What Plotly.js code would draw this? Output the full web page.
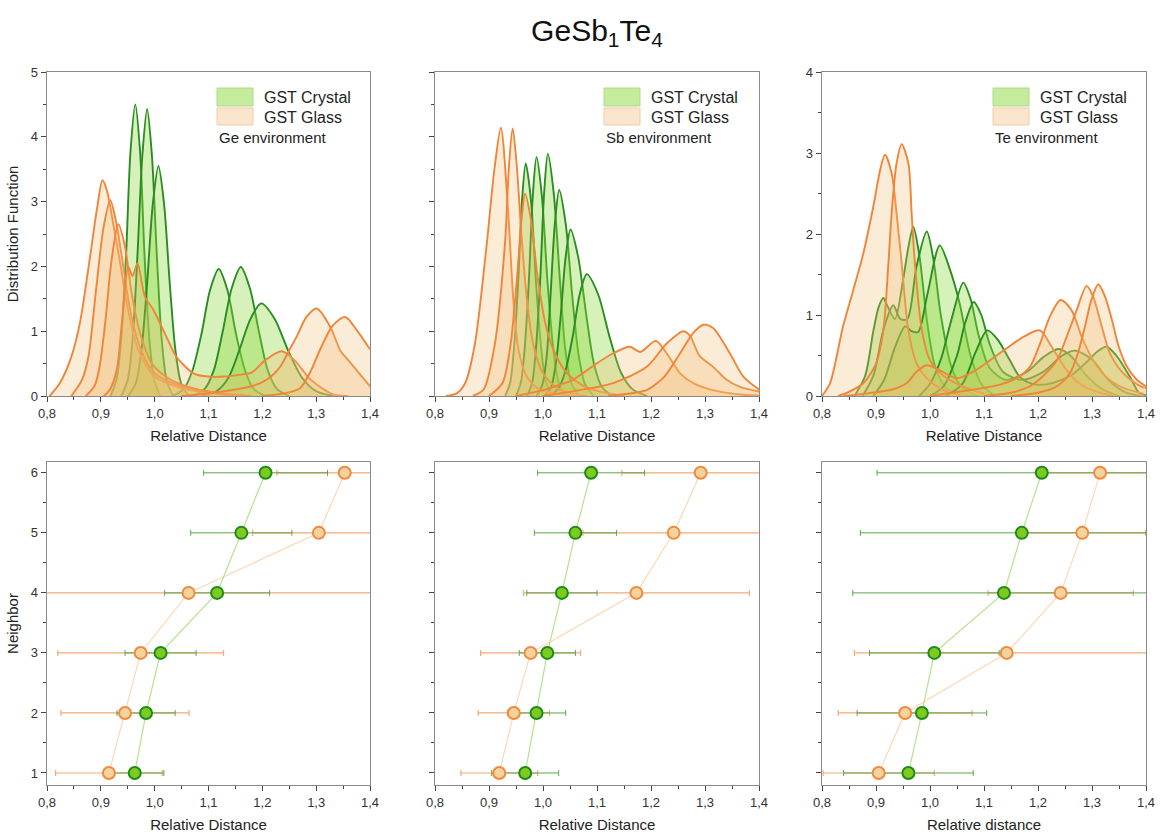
<!DOCTYPE html>
<html>
<head>
<meta charset="utf-8">
<script src="https://cdn.plot.ly/plotly-3.0.1.min.js"></script>
<style>
  html, body { margin: 0; padding: 0; background: #fff; }
  #chart { width: 1160px; height: 839px; }
</style>
</head>
<body>
<div id="chart"></div>
<script>
// ---------- Distribution functions (one curve per neighbour rank 1..6) ----------
// Ge environment
const geCrystalX = [
  [0.918,0.929,0.938,0.947,0.955,0.964,0.973,0.981,0.990,0.999,1.010],
  [0.938,0.950,0.959,0.968,0.977,0.986,0.995,1.004,1.013,1.022,1.034],
  [0.951,0.965,0.9755,0.986,0.9965,1.007,1.0175,1.028,1.0385,1.049,1.063],
  [1.033,1.054,1.070,1.087,1.103,1.119,1.135,1.151,1.168,1.184,1.205],
  [1.070,1.093,1.110,1.126,1.143,1.160,1.177,1.194,1.210,1.227,1.250],
  [1.089,1.116,1.137,1.157,1.178,1.198,1.223,1.248,1.274,1.299,1.332]
];
const geCrystalY = [
  [0,0.25,0.89,2.2,3.76,4.50,3.76,2.2,0.89,0.25,0],
  [0,0.25,0.88,2.17,3.70,4.43,3.70,2.17,0.88,0.25,0],
  [0,0.2,0.71,1.74,2.96,3.55,2.96,1.74,0.71,0.2,0],
  [0,0.11,0.39,0.96,1.64,1.96,1.64,0.96,0.39,0.11,0],
  [0,0.11,0.40,0.98,1.66,1.99,1.66,0.98,0.40,0.11,0],
  [0,0.08,0.28,0.70,1.19,1.43,1.19,0.70,0.28,0.08,0]
];
const geGlassX = [
  [0.805,0.824,0.845,0.861,0.88,0.893,0.903,0.911,0.923,0.935,0.95,0.97,1.0,1.05,1.1,1.15],
  [0.845,0.865,0.877,0.891,0.905,0.9175,0.928,0.939,0.955,0.975,1.0,1.05,1.12,1.18],
  [0.872,0.888,0.897,0.908,0.92,0.9325,0.945,0.957,0.972,0.995,1.03,1.08,1.15],
  [0.905,0.917,0.93,0.939,0.951,0.959,0.968,0.982,0.9975,1.022,1.04,1.072,1.10,1.13,1.16,1.18,1.205,1.236,1.26,1.29,1.33,1.36],
  [1.05,1.1,1.15,1.18,1.208,1.233,1.25,1.264,1.282,1.301,1.326,1.345,1.36,1.38,1.4],
  [1.2,1.24,1.27,1.289,1.307,1.33,1.354,1.375,1.4]
];
const geGlassY = [
  [0,0.2,0.6,1.12,2.15,2.9,3.33,3.18,2.66,2.1,1.35,0.7,0.3,0.12,0.05,0],
  [0,0.25,0.61,1.63,2.6,3.02,2.7,2.15,1.3,0.7,0.35,0.15,0.05,0],
  [0,0.15,0.42,1.12,2.1,2.65,2.3,1.6,1.0,0.5,0.25,0.1,0],
  [0,0.1,0.42,1.12,1.99,1.85,2.05,1.53,1.33,0.91,0.61,0.35,0.3,0.3,0.33,0.36,0.55,0.69,0.55,0.25,0.03,0],
  [0,0.04,0.1,0.15,0.25,0.45,0.71,0.92,1.22,1.35,1.07,0.7,0.55,0.35,0.15],
  [0,0.04,0.12,0.37,0.71,1.08,1.22,1.02,0.72]
];

// Sb environment
const sbCrystalX = [
  [0.930,0.939,0.946,0.954,0.961,0.968,0.978,0.987,0.997,1.006,1.019],
  [0.950,0.959,0.966,0.974,0.981,0.988,0.998,1.008,1.019,1.029,1.042],
  [0.971,0.980,0.987,0.995,1.002,1.009,1.020,1.031,1.041,1.052,1.067],
  [0.988,0.999,1.007,1.014,1.022,1.030,1.042,1.054,1.066,1.078,1.094],
  [1.003,1.015,1.024,1.033,1.042,1.051,1.065,1.080,1.094,1.109,1.128],
  [1.011,1.028,1.041,1.055,1.068,1.081,1.102,1.123,1.144,1.165,1.193]
];
const sbCrystalY = [
  [0,0.20,0.71,1.76,3.00,3.59,3.00,1.76,0.71,0.20,0],
  [0,0.21,0.73,1.81,3.08,3.69,3.08,1.81,0.73,0.21,0],
  [0,0.21,0.74,1.83,3.12,3.74,3.12,1.83,0.74,0.21,0],
  [0,0.18,0.63,1.56,2.66,3.18,2.66,1.56,0.63,0.18,0],
  [0,0.14,0.51,1.26,2.15,2.57,2.15,1.26,0.51,0.14,0],
  [0,0.11,0.37,0.92,1.57,1.88,1.57,0.92,0.37,0.11,0]
];
const sbGlassX = [
  [0.82,0.84,0.856,0.874,0.896,0.91,0.922,0.935,0.945,0.955,0.97,0.99,1.02,1.06],
  [0.87,0.89,0.911,0.9296,0.937,0.9438,0.951,0.96,0.97,0.982,1.0,1.03,1.08],
  [0.90,0.925,0.94,0.952,0.96,0.9667,0.978,0.99,1.005,1.02,1.04,1.07,1.1,1.15],
  [0.95,1.0,1.03,1.056,1.0685,1.099,1.13,1.161,1.18,1.209,1.229,1.254,1.278,1.32,1.37,1.4],
  [1.0,1.0685,1.13,1.192,1.229,1.26,1.272,1.29,1.315,1.34,1.365,1.4],
  [1.12,1.17,1.192,1.225,1.254,1.278,1.297,1.315,1.346,1.371,1.4]
];
const sbGlassY = [
  [0,0.04,0.2,0.81,2.36,3.5,4.14,2.9,1.5,0.7,0.3,0.12,0.04,0],
  [0,0.1,0.81,2.36,3.55,4.13,3.6,2.5,1.5,0.8,0.35,0.1,0],
  [0,0.2,0.8,1.84,2.7,3.12,2.7,1.84,1.1,0.7,0.4,0.18,0.08,0],
  [0,0.09,0.17,0.25,0.32,0.50,0.66,0.76,0.68,0.85,0.66,0.35,0.2,0.08,0.02,0.01],
  [0,0.09,0.2,0.45,0.81,1.0,0.93,0.62,0.45,0.25,0.14,0.07],
  [0,0.05,0.09,0.3,0.66,0.97,1.10,1.05,0.66,0.3,0.1]
];

// Te environment
const teCrystalX = [
  [0.86,0.88,0.895,0.905,0.9135,0.922,0.935,0.95,0.96,0.969,0.98,0.995,1.01,1.03,1.06,1.09],
  [0.875,0.895,0.915,0.932,0.945,0.958,0.975,0.994,1.006,1.02,1.04,1.06,1.09],
  [0.895,0.915,0.935,0.954,0.966,0.978,0.995,1.018,1.037,1.055,1.075,1.095,1.12],
  [0.98,1.0,1.02,1.04,1.0616,1.075,1.09,1.11,1.14,1.18,1.21,1.2376,1.26,1.29,1.32,1.35],
  [1.0,1.025,1.05,1.065,1.081,1.095,1.11,1.135,1.17,1.21,1.245,1.2685,1.3,1.33,1.36,1.39],
  [1.03,1.06,1.085,1.106,1.125,1.148,1.166,1.19,1.22,1.26,1.29,1.31,1.327,1.345,1.37,1.387,1.4]
];
const teCrystalY = [
  [0,0.25,0.8,1.1,1.21,1.1,0.95,1.43,1.84,2.09,1.75,0.9,0.35,0.1,0.02,0],
  [0,0.25,0.85,1.12,0.95,0.95,1.6,2.03,1.7,1.0,0.35,0.1,0],
  [0,0.2,0.6,0.86,0.8,0.79,1.25,1.86,1.56,1.14,0.5,0.15,0],
  [0,0.15,0.45,0.95,1.40,1.2,0.75,0.35,0.2,0.3,0.48,0.58,0.5,0.25,0.08,0],
  [0,0.12,0.5,0.9,1.16,1.0,0.65,0.3,0.2,0.3,0.5,0.56,0.45,0.2,0.05,0],
  [0,0.15,0.55,0.81,0.7,0.44,0.24,0.15,0.15,0.25,0.42,0.55,0.61,0.5,0.24,0.04,0.01]
];
const teGlassX = [
  [0.80,0.815,0.839,0.858,0.8765,0.895,0.908,0.9167,0.929,0.938,0.9475,0.96,0.9754,1.0,1.03,1.06],
  [0.83,0.85,0.877,0.90,0.9135,0.923,0.929,0.938,0.9475,0.96,0.966,0.972,0.985,1.0,1.025,1.06,1.1],
  [0.84,0.88,0.93,0.957,0.975,0.994,1.015,1.049,1.08,1.111,1.142,1.173,1.2037,1.225,1.253,1.28,1.31,1.34],
  [1.0,1.05,1.1,1.13,1.16,1.185,1.204,1.222,1.242,1.262,1.281,1.302,1.327,1.358,1.395],
  [1.1,1.15,1.185,1.21,1.235,1.253,1.2716,1.29,1.302,1.318,1.333,1.358,1.39,1.4],
  [1.15,1.2,1.235,1.259,1.274,1.287,1.299,1.3117,1.324,1.3365,1.349,1.364,1.383,1.4]
];
const teGlassY = [
  [0,0.16,0.86,1.31,1.76,2.34,2.8,2.98,2.75,2.26,1.64,0.81,0.4,0.18,0.06,0],
  [0,0.05,0.16,0.4,0.81,1.64,2.26,2.87,3.11,2.87,2.26,1.64,0.81,0.44,0.25,0.12,0.03],
  [0,0.03,0.08,0.16,0.3,0.38,0.33,0.22,0.3,0.44,0.59,0.73,0.81,0.61,0.32,0.14,0.05,0],
  [0,0.05,0.1,0.14,0.22,0.36,0.65,0.98,1.185,1.06,0.73,0.44,0.23,0.1,0.03],
  [0,0.04,0.12,0.25,0.44,0.73,1.06,1.36,1.23,0.86,0.53,0.28,0.12,0.1],
  [0,0.04,0.12,0.28,0.53,0.86,1.19,1.38,1.23,0.95,0.62,0.37,0.2,0.12]
];

// ---------- Mean relative distance per neighbour rank, with spread ----------
const neighbors = [1, 2, 3, 4, 5, 6];
const geCrystalMean = [0.963, 0.984, 1.011, 1.116, 1.161, 1.206];
const geCrystalErr  = [0.054, 0.054, 0.066, 0.0975, 0.094, 0.115];
const geGlassMean   = [0.915, 0.945, 0.974, 1.063, 1.305, 1.353];
const geGlassErr    = [0.099, 0.119, 0.154, 0.40, 0.123, 0.126];
const sbCrystalMean = [0.967, 0.988, 1.008, 1.035, 1.060, 1.089];
const sbCrystalErr  = [0.062, 0.054, 0.052, 0.065, 0.076, 0.099];
const sbGlassMean   = [0.919, 0.946, 0.977, 1.173, 1.242, 1.292];
const sbGlassErr    = [0.071, 0.066, 0.0925, 0.209, 0.168, 0.146];
const teCrystalMean = [0.960, 0.985, 1.008, 1.137, 1.170, 1.207];
const teCrystalErr  = [0.12, 0.12, 0.12, 0.28, 0.299, 0.305];
const teGlassMean   = [0.905, 0.954, 1.142, 1.242, 1.282, 1.315];
const teGlassErr    = [0.103, 0.124, 0.282, 0.1345, 0.117, 0.11];

const seriesNames = ['GST Crystal', 'GST Glass'];
const environments = ['Ge environment', 'Sb environment', 'Te environment'];

// ---------- Styling ----------
const FONT = 'Liberation Sans, Arial, sans-serif';
const GREEN_LINE = '#2a8c22';
const GREEN_FILL = 'rgba(140,215,60,0.36)';
const ORANGE_LINE = '#f0853a';
const ORANGE_FILL = 'rgba(240,185,110,0.28)';

const W = 1160, H = 839;
const px = v => v / W;
const py = v => 1 - v / H;

const colDomains = [[px(47), px(370)], [px(435), px(759)], [px(822), px(1146)]];
const topDomain = [py(396), py(72)];
const botDomain = [py(785), py(462)];

const traces = [];

function addDistribution(xs, ys, axisIdx, lineColor, fillColor) {
  const xa = axisIdx === 1 ? 'x' : 'x' + axisIdx;
  const ya = axisIdx === 1 ? 'y' : 'y' + axisIdx;
  for (let i = 0; i < xs.length; i++) {
    traces.push({
      type: 'scatter', mode: 'lines', x: xs[i], y: ys[i],
      xaxis: xa, yaxis: ya,
      line: { color: lineColor, width: 1.9, shape: 'spline', smoothing: 0.8 },
      fill: 'tozeroy', fillcolor: fillColor,
      hoverinfo: 'skip', showlegend: false
    });
  }
}

addDistribution(geCrystalX, geCrystalY, 1, GREEN_LINE, GREEN_FILL);
addDistribution(geGlassX, geGlassY, 1, ORANGE_LINE, ORANGE_FILL);
addDistribution(sbCrystalX, sbCrystalY, 2, GREEN_LINE, GREEN_FILL);
addDistribution(sbGlassX, sbGlassY, 2, ORANGE_LINE, ORANGE_FILL);
addDistribution(teCrystalX, teCrystalY, 3, GREEN_LINE, GREEN_FILL);
addDistribution(teGlassX, teGlassY, 3, ORANGE_LINE, ORANGE_FILL);

function addNeighborPanel(crMean, crErr, glMean, glErr, axisIdx) {
  const xa = 'x' + axisIdx, ya = 'y' + axisIdx;
  // connecting lines and spread bars first
  traces.push({
    type: 'scatter', mode: 'lines', x: glMean, y: neighbors, xaxis: xa, yaxis: ya,
    line: { color: '#fbd8b6', width: 1.2 },
    error_x: { type: 'data', array: glErr, symmetric: true, color: '#f5a878', thickness: 1.2, width: 3 },
    hoverinfo: 'skip', showlegend: false
  });
  traces.push({
    type: 'scatter', mode: 'lines', x: crMean, y: neighbors, xaxis: xa, yaxis: ya,
    line: { color: '#b6e28e', width: 1.2 },
    error_x: { type: 'data', array: crErr, symmetric: true, color: '#5aa84a', thickness: 1, width: 3 },
    hoverinfo: 'skip', showlegend: false
  });
  // markers on top
  traces.push({
    type: 'scatter', mode: 'markers', x: glMean, y: neighbors, xaxis: xa, yaxis: ya,
    marker: { size: 12, color: '#f6d29c', line: { color: '#f08a3e', width: 2 } },
    name: seriesNames[1], hoverinfo: 'x+y', showlegend: false
  });
  traces.push({
    type: 'scatter', mode: 'markers', x: crMean, y: neighbors, xaxis: xa, yaxis: ya,
    marker: { size: 12, color: '#7ccb1e', line: { color: '#1f8a1a', width: 2 } },
    name: seriesNames[0], hoverinfo: 'x+y', showlegend: false
  });
}

addNeighborPanel(geCrystalMean, geCrystalErr, geGlassMean, geGlassErr, 4);
addNeighborPanel(sbCrystalMean, sbCrystalErr, sbGlassMean, sbGlassErr, 5);
addNeighborPanel(teCrystalMean, teCrystalErr, teGlassMean, teGlassErr, 6);

// ---------- Axes ----------
function xAxis(domain, anchor, titleText) {
  return {
    domain: domain, anchor: anchor, range: [0.8, 1.4],
    dtick: 0.1, tick0: 0.8, tickformat: '.1f',
    ticks: 'outside', ticklen: 5, tickcolor: '#444', tickwidth: 1,
    minor: { ticks: 'outside', ticklen: 3, dtick: 0.05, tick0: 0.8, tickcolor: '#444' },
    showline: true, mirror: true, linecolor: '#8a8a8a', linewidth: 1.3,
    showgrid: false, zeroline: false,
    tickfont: { family: FONT, size: 13, color: '#333' },
    title: { text: titleText, font: { family: FONT, size: 15, color: '#222' }, standoff: 10 }
  };
}
function yAxis(domain, anchor, range, showLabels, titleText) {
  const ax = {
    domain: domain, anchor: anchor, range: range,
    dtick: 1, tick0: 0,
    ticks: 'outside', ticklen: 5, tickcolor: '#444', tickwidth: 1,
    minor: { ticks: 'outside', ticklen: 3, dtick: 0.5, tick0: 0, tickcolor: '#444' },
    showline: true, mirror: true, linecolor: '#8a8a8a', linewidth: 1.3,
    showgrid: false, zeroline: false, showticklabels: showLabels,
    tickfont: { family: FONT, size: 13, color: '#333' }
  };
  if (titleText) {
    ax.title = { text: titleText, font: { family: FONT, size: 15, color: '#222' }, standoff: 8 };
  }
  return ax;
}

const layout = {
  width: W, height: H,
  margin: { l: 0, r: 0, t: 0, b: 0 },
  paper_bgcolor: '#ffffff', plot_bgcolor: '#ffffff',
  separators: ',.',
  showlegend: false,
  font: { family: FONT },
  title: {
    text: 'GeSb<sub>1</sub>Te<sub>4</sub>',
    x: px(597), xanchor: 'center', y: py(30), yanchor: 'middle',
    font: { family: FONT, size: 30, color: '#111' }
  },
  xaxis:  xAxis(colDomains[0], 'y',  'Relative Distance'),
  xaxis2: xAxis(colDomains[1], 'y2', 'Relative Distance'),
  xaxis3: xAxis(colDomains[2], 'y3', 'Relative Distance'),
  xaxis4: xAxis(colDomains[0], 'y4', 'Relative Distance'),
  xaxis5: xAxis(colDomains[1], 'y5', 'Relative Distance'),
  xaxis6: xAxis(colDomains[2], 'y6', 'Relative distance'),
  yaxis:  yAxis(topDomain, 'x',  [0, 5], true, 'Distribution Function'),
  yaxis2: yAxis(topDomain, 'x2', [0, 5], false),
  yaxis3: yAxis(topDomain, 'x3', [0, 4], true),
  yaxis4: yAxis(botDomain, 'x4', [0.8, 6.18], true, 'Neighbor'),
  yaxis5: yAxis(botDomain, 'x5', [0.8, 6.18], false),
  yaxis6: yAxis(botDomain, 'x6', [0.8, 6.18], false),
  shapes: [],
  annotations: []
};

// ---------- In-panel legends ----------
const legendLeft = [217, 604, 993];
environments.forEach((env, i) => {
  const l = legendLeft[i];
  layout.shapes.push({
    type: 'rect', xref: 'paper', yref: 'paper',
    x0: px(l), x1: px(l + 36), y0: py(106), y1: py(88),
    fillcolor: 'rgba(140,215,60,0.5)', line: { color: '#a9dc8a', width: 1 }
  });
  layout.shapes.push({
    type: 'rect', xref: 'paper', yref: 'paper',
    x0: px(l), x1: px(l + 36), y0: py(125), y1: py(108),
    fillcolor: 'rgba(245,205,155,0.5)', line: { color: '#f6c9a4', width: 1 }
  });
  layout.annotations.push({
    xref: 'paper', yref: 'paper', x: px(l + 45), y: py(97), xanchor: 'left', yanchor: 'middle',
    text: seriesNames[0], showarrow: false, font: { family: FONT, size: 16, color: '#222' }
  });
  layout.annotations.push({
    xref: 'paper', yref: 'paper', x: px(l + 45), y: py(117), xanchor: 'left', yanchor: 'middle',
    text: seriesNames[1], showarrow: false, font: { family: FONT, size: 16, color: '#222' }
  });
  layout.annotations.push({
    xref: 'paper', yref: 'paper', x: px(l), y: py(137), xanchor: 'left', yanchor: 'middle',
    text: env, showarrow: false, font: { family: FONT, size: 15, color: '#222' }
  });
});

Plotly.newPlot('chart', traces, layout, { displayModeBar: false, staticPlot: true });
</script>
</body>
</html>
